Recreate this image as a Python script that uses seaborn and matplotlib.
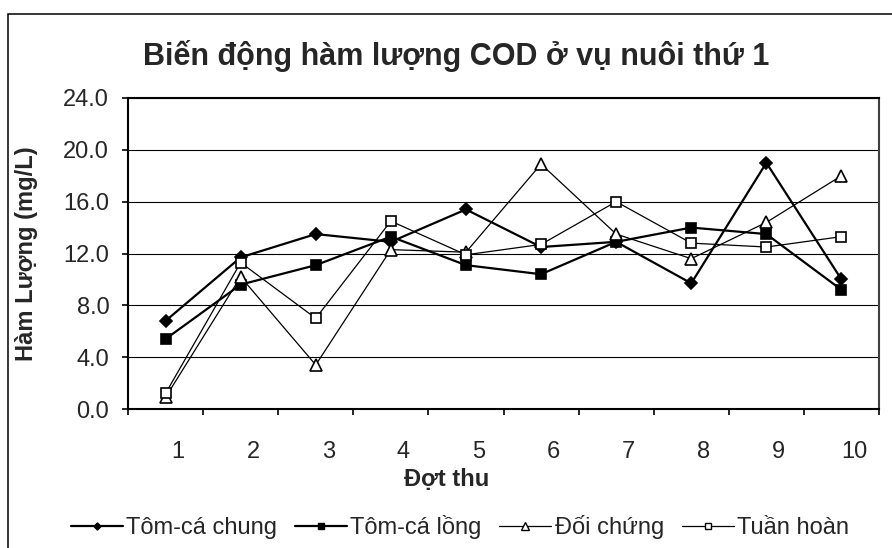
import matplotlib
matplotlib.use("Agg")
import matplotlib.pyplot as plt
from matplotlib.patches import Rectangle
from matplotlib.transforms import ScaledTranslation
from matplotlib.lines import Line2D
import seaborn as sns
import pandas as pd

# COD concentration (mg/L) per sampling round
dot_thu = ["1", "2", "3", "4", "5", "6", "7", "8", "9", "10"]
tom_ca_chung = [6.8, 11.7, 13.5, 12.9, 15.4, 12.5, 12.9, 9.7, 19.0, 10.0]
tom_ca_long = [5.4, 9.6, 11.1, 13.3, 11.1, 10.4, 12.9, 14.0, 13.5, 9.2]
doi_chung = [0.9, 10.2, 3.4, 12.3, 12.1, 18.9, 13.5, 11.6, 14.4, 18.0]
tuan_hoan = [1.2, 11.3, 7.0, 14.5, 11.9, 12.7, 16.0, 12.8, 12.5, 13.3]
y_ticks = [0, 4, 8, 12, 16, 20, 24]

sns.set_style("white")
plt.rcParams["font.family"] = ["Liberation Sans", "DejaVu Sans"]

W, H = 892, 548
fig = plt.figure(figsize=(W / 100, H / 100), dpi=100)

# outer chart frame (open on the right and bottom)
fig.patches.append(Rectangle((8 / W, -0.1), 1.2, 1 - 14 / H + 0.1,
                             transform=fig.transFigure, fill=False,
                             edgecolor="black", linewidth=1.1))

ax = fig.add_axes([128 / W, 1 - 409 / H, (879 - 128) / W, (409 - 98) / H])

pos = list(range(len(dot_thu)))
series = [
    ("Tôm-cá chung", tom_ca_chung, dict(marker="D", markersize=6.0, linewidth=1.6,
                                         markerfacecolor="black")),
    ("Tôm-cá lồng", tom_ca_long, dict(marker="s", markersize=7.0, linewidth=1.6,
                                       markerfacecolor="black")),
    ("Đối chứng", doi_chung, dict(marker="^", markersize=8.5, linewidth=0.9,
                                   markerfacecolor="white")),
    ("Tuần hoàn", tuan_hoan, dict(marker="s", markersize=7.0, linewidth=0.9,
                                   markerfacecolor="white")),
]

handles = []
for name, vals, style in series:
    df = pd.DataFrame({"pos": pos, "cod": vals})
    sns.lineplot(data=df, x="pos", y="cod", ax=ax, color="black",
                 markeredgecolor="black", markeredgewidth=1.2, label=name,
                 legend=False, **style)
    handles.append(Line2D([], [], color="black", markeredgecolor="black",
                          markeredgewidth=1.0,
                          **{**style, "markersize": style["markersize"] * 0.6}))

ax.set_xlim(-0.5, len(dot_thu) - 0.5)
ax.set_ylim(0, 24)
ax.set_yticks(y_ticks)
ax.set_yticklabels([f"{v:.1f}" for v in y_ticks])
ax.set_xticks(pos)
ax.set_xticklabels(dot_thu)
ax.set_xticks([p - 0.5 for p in pos] + [pos[-1] + 0.5], minor=True)
ax.tick_params(axis="x", which="major", length=0, pad=23, labelsize=17)
ax.tick_params(axis="x", which="minor", length=4.5, width=1.2, direction="out",
               bottom=True, color="black")
ax.tick_params(axis="y", length=4.5, width=1.2, direction="out", left=True,
               pad=9, labelsize=17, color="black")
for lab in ax.get_xticklabels():
    lab.set_transform(lab.get_transform() + ScaledTranslation(9 / 72, 0, fig.dpi_scale_trans))

ax.yaxis.grid(True, color="black", linewidth=0.8)
ax.xaxis.grid(False)
ax.set_axisbelow(True)
for side, sp in ax.spines.items():
    sp.set_visible(True)
    sp.set_color("black" if side != "right" else "#404040")
    sp.set_linewidth(1.5)
ax.set_xlabel("")
ax.set_ylabel("")

fig.text(456 / W, 1 - 65 / H, "Biến động hàm lượng COD ở vụ nuôi thứ 1",
         ha="center", va="baseline", fontsize=22, fontweight="bold")
fig.text(447 / W, 1 - 480 / H, "Đợt thu", ha="center", va="center",
         fontsize=17, fontweight="bold")
fig.text(27 / W, 1 - 254 / H, "Hàm Lượng (mg/L)", ha="center", va="center",
         rotation=90, fontsize=17, fontweight="bold")

fig.legend(handles, [s[0] for s in series], loc="center", ncol=4,
           bbox_to_anchor=(460 / W, 1 - 527 / H), frameon=False, fontsize=17,
           handlelength=2.2, handletextpad=0.15, columnspacing=0.75,
           borderpad=0, borderaxespad=0)

fig.savefig("out.png", dpi=100)
